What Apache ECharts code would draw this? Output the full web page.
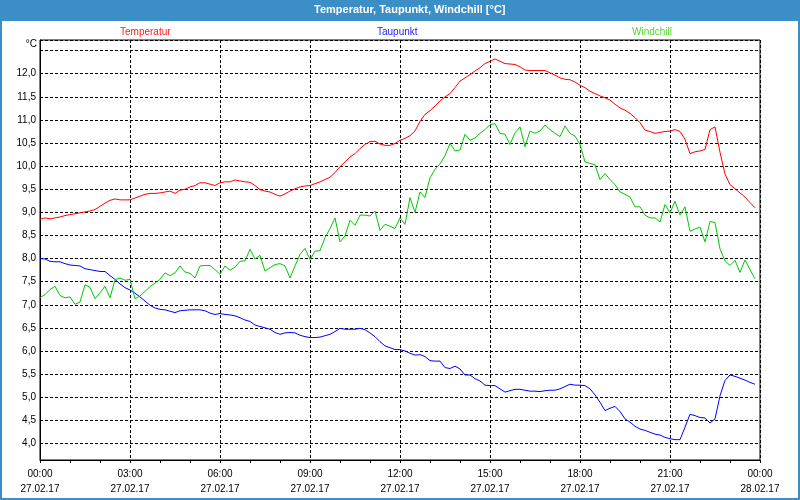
<!DOCTYPE html>
<html><head><meta charset="utf-8">
<script src="https://cdn.jsdelivr.net/npm/echarts@6/dist/echarts.min.js"></script>
<style>html,body{margin:0;padding:0;background:#fff}#c{width:800px;height:500px}</style>
</head><body><div id="c"></div>
<script>
const times = [
"00:00","00:10","00:20","00:30","00:40","00:50","01:00","01:10","01:20","01:30","01:40","01:50",
"02:00","02:10","02:20","02:30","02:40","02:50","03:00","03:10","03:20","03:30","03:40","03:50",
"04:00","04:10","04:20","04:30","04:40","04:50","05:00","05:10","05:20","05:30","05:40","05:50",
"06:00","06:10","06:20","06:30","06:40","06:50","07:00","07:10","07:20","07:30","07:40","07:50",
"08:00","08:10","08:20","08:30","08:40","08:50","09:00","09:10","09:20","09:30","09:40","09:50",
"10:00","10:10","10:20","10:30","10:40","10:50","11:00","11:10","11:20","11:30","11:40","11:50",
"12:00","12:10","12:20","12:30","12:40","12:50","13:00","13:10","13:20","13:30","13:40","13:50",
"14:00","14:10","14:20","14:30","14:40","14:50","15:00","15:10","15:20","15:30","15:40","15:50",
"16:00","16:10","16:20","16:30","16:40","16:50","17:00","17:10","17:20","17:30","17:40","17:50",
"18:00","18:10","18:20","18:30","18:40","18:50","19:00","19:10","19:20","19:30","19:40","19:50",
"20:00","20:10","20:20","20:30","20:40","20:50","21:00","21:10","21:20","21:30","21:40","21:50",
"22:00","22:10","22:20","22:30","22:40","22:50","23:00","23:10","23:20","23:30","23:40","23:50",
"00:00"];
const tickTimes = ["00:00","03:00","06:00","09:00","12:00","15:00","18:00","21:00","00:00"];
const tickDates = ["27.02.17","27.02.17","27.02.17","27.02.17","27.02.17","27.02.17","27.02.17","27.02.17","28.02.17"];

const temperatur = [
8.85,8.88,8.86,8.88,8.90,8.93,8.95,8.97,8.99,9.01,
9.03,9.06,9.13,9.20,9.26,9.29,9.27,9.27,9.27,9.31,
9.35,9.39,9.41,9.41,9.42,9.44,9.46,9.41,9.48,9.50,
9.55,9.58,9.64,9.64,9.61,9.58,9.64,9.66,9.66,9.70,
9.68,9.66,9.65,9.58,9.49,9.46,9.44,9.39,9.35,9.40,
9.46,9.51,9.55,9.57,9.58,9.62,9.66,9.71,9.76,9.86,
9.99,10.09,10.20,10.27,10.38,10.47,10.53,10.54,10.48,10.45,
10.45,10.49,10.56,10.60,10.66,10.76,10.97,11.12,11.20,11.30,
11.41,11.50,11.57,11.70,11.84,11.91,11.98,12.06,12.13,12.22,
12.27,12.32,12.27,12.22,12.21,12.20,12.15,12.08,12.07,12.07,
12.07,12.07,12.02,11.97,11.91,11.88,11.87,11.82,11.75,11.70,
11.62,11.57,11.52,11.48,11.43,11.34,11.26,11.21,11.14,11.05,
10.94,10.78,10.75,10.71,10.73,10.75,10.76,10.79,10.75,10.58,
10.27,10.31,10.33,10.36,10.79,10.85,10.30,9.83,9.60,9.51,
9.42,9.33,9.21,9.10];

const taupunkt = [
8.00,7.99,7.94,7.93,7.93,7.89,7.86,7.85,7.84,7.78,
7.76,7.74,7.72,7.72,7.63,7.55,7.45,7.37,7.32,7.25,
7.17,7.08,6.99,6.93,6.90,6.89,6.86,6.83,6.87,6.88,
6.89,6.89,6.89,6.87,6.82,6.79,6.81,6.79,6.78,6.76,
6.72,6.67,6.64,6.56,6.53,6.50,6.47,6.40,6.36,6.39,
6.40,6.39,6.34,6.31,6.29,6.29,6.30,6.33,6.36,6.42,
6.49,6.47,6.47,6.47,6.49,6.46,6.39,6.31,6.20,6.11,
6.07,6.03,6.03,6.00,5.95,5.91,5.92,5.88,5.79,5.78,
5.78,5.64,5.62,5.67,5.61,5.48,5.48,5.40,5.35,5.26,
5.25,5.25,5.18,5.11,5.14,5.17,5.17,5.15,5.13,5.13,
5.12,5.14,5.15,5.15,5.18,5.23,5.28,5.26,5.26,5.25,
5.18,5.05,4.89,4.71,4.76,4.80,4.69,4.53,4.46,4.37,
4.31,4.28,4.24,4.20,4.18,4.13,4.10,4.08,4.08,4.35,
4.63,4.60,4.56,4.55,4.44,4.53,5.03,5.36,5.48,5.45,
5.41,5.37,5.32,5.28];

const windchill = [
7.15,7.22,7.33,7.40,7.20,7.15,7.17,7.01,7.06,7.43,
7.38,7.13,7.26,7.40,7.15,7.54,7.58,7.53,7.55,7.13,
7.19,7.29,7.39,7.47,7.55,7.69,7.63,7.69,7.84,7.71,
7.68,7.58,7.84,7.85,7.85,7.76,7.66,7.84,7.75,7.81,
7.94,7.95,8.20,7.99,8.07,7.73,7.80,7.87,7.89,7.84,
7.58,7.84,8.09,8.22,7.98,8.16,8.17,8.45,8.65,8.88,
8.36,8.49,8.83,8.72,8.94,8.94,8.92,9.03,8.61,8.74,
8.70,8.65,8.88,8.74,9.32,9.00,9.44,9.32,9.75,9.93,
10.05,10.23,10.49,10.33,10.35,10.69,10.56,10.61,10.71,10.79,
10.90,10.92,10.71,10.69,10.47,10.72,10.85,10.42,10.76,10.71,
10.76,10.89,10.79,10.71,10.64,10.87,10.71,10.65,10.47,10.09,
10.06,10.03,9.71,9.84,9.71,9.60,9.44,9.39,9.33,9.12,
9.12,8.94,8.88,8.88,8.79,9.17,8.99,9.24,8.94,9.12,
8.59,8.64,8.68,8.36,8.80,8.78,8.21,7.95,7.85,7.96,
7.70,7.97,7.76,7.56];

const FONT = "'Liberation Sans', Arial, sans-serif";
const BLUE = '#3c8fc6';
const chart = echarts.init(document.getElementById('c'), null, {renderer: 'canvas'});
chart.setOption({
  animation: false,
  backgroundColor: '#ffffff',
  textStyle: {fontFamily: FONT},
  graphic: [
    {type: 'rect', z: 0, shape: {x: 0, y: 0, width: 800, height: 21}, style: {fill: BLUE}},
    {type: 'rect', z: 0, shape: {x: 1, y: 1, width: 798, height: 498}, style: {fill: 'none', stroke: BLUE, lineWidth: 2}}
  ],
  title: {
    text: 'Temperatur, Taupunkt, Windchill [°C]',
    left: 314, top: 4, padding: 0,
    textStyle: {color: '#ffffff', fontSize: 11, fontWeight: 'bold', fontFamily: FONT}
  },
  legend: [
    {data: [{name: 'Temperatur', textStyle: {color: '#ff1a1a'}}], left: 115, top: 27, padding: 0, icon: 'none', itemWidth: 0, itemHeight: 10, selectedMode: false, textStyle: {fontSize: 10, fontFamily: FONT}},
    {data: [{name: 'Taupunkt', textStyle: {color: '#1a1aff'}}], left: 372, top: 27, padding: 0, icon: 'none', itemWidth: 0, itemHeight: 10, selectedMode: false, textStyle: {fontSize: 10, fontFamily: FONT}},
    {data: [{name: 'Windchill', textStyle: {color: '#4fd62a'}}], left: 627, top: 27, padding: 0, icon: 'none', itemWidth: 0, itemHeight: 10, selectedMode: false, textStyle: {fontSize: 10, fontFamily: FONT}}
  ],
  grid: {left: 40, right: 40, top: 40, bottom: 40, show: true, borderColor: '#000', borderWidth: 1, backgroundColor: 'transparent'},
  xAxis: {
    type: 'category', data: times, boundaryGap: false,
    axisLine: {lineStyle: {color: '#000', width: 1}},
    axisTick: {show: true, interval: 5, length: 3, lineStyle: {color: '#000'}},
    axisLabel: {
      interval: 17, margin: 7, fontSize: 10, lineHeight: 15, color: '#000', fontFamily: FONT,
      formatter: function (v, i) { const k = Math.round(i / 18); return tickTimes[k] + '\n' + tickDates[k]; }
    },
    splitLine: {show: true, interval: 17, lineStyle: {color: '#000', width: 1, type: [3, 2]}}
  },
  yAxis: {
    type: 'value', min: 3.64, max: 12.73, minInterval: 0.5, maxInterval: 0.5, splitNumber: 18,
    name: '°C', nameLocation: 'end', nameGap: -4,
    nameTextStyle: {align: 'right', verticalAlign: 'middle', padding: [0, 3, 0, 0], color: '#000', fontSize: 10, fontFamily: FONT},
    axisLine: {show: true, lineStyle: {color: '#000', width: 1}},
    axisTick: {show: false},
    axisLabel: {
      margin: 4, fontSize: 10, color: '#000', fontFamily: FONT, showMinLabel: false, showMaxLabel: false,
      formatter: function (v) {
        if (Math.abs(v * 2 - Math.round(v * 2)) > 1e-6 || v < 3.99 || v > 12.01) return '';
        return v.toFixed(1).replace('.', ',');
      }
    },
    splitLine: {show: true, lineStyle: {color: '#000', width: 1, type: [3, 2]}}
  },
  series: [
    {name: 'Temperatur', type: 'line', data: temperatur, showSymbol: false, symbol: 'none', lineStyle: {width: 1, color: '#ff0000'}, itemStyle: {color: '#ff0000'}},
    {name: 'Taupunkt', type: 'line', data: taupunkt, showSymbol: false, symbol: 'none', lineStyle: {width: 1, color: '#0000ff'}, itemStyle: {color: '#0000ff'}},
    {name: 'Windchill', type: 'line', data: windchill, showSymbol: false, symbol: 'none', lineStyle: {width: 1, color: '#00c800'}, itemStyle: {color: '#00c800'}}
  ]
});
</script>
</body></html>
